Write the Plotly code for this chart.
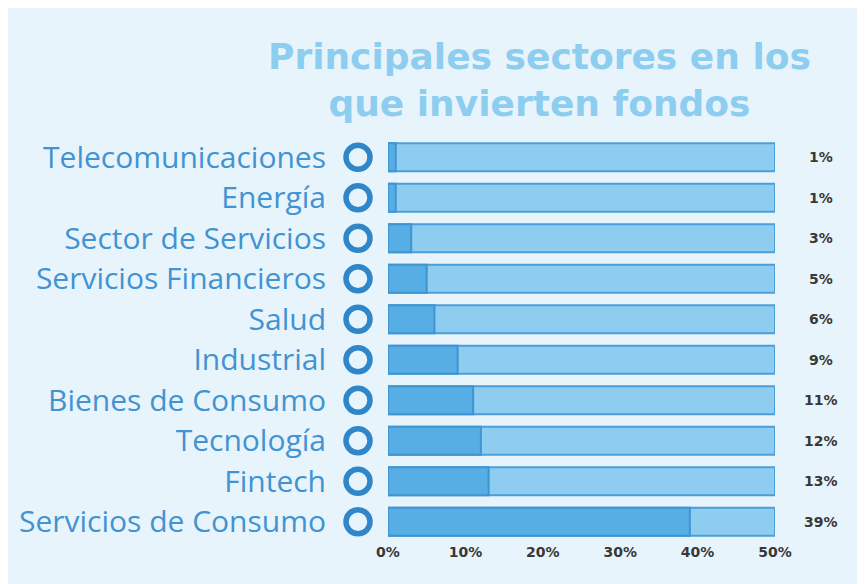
import plotly.graph_objects as go

categories = ["Telecomunicaciones", "Energía", "Sector de Servicios", "Servicios Financieros",
              "Salud", "Industrial", "Bienes de Consumo", "Tecnología", "Fintech", "Servicios de Consumo"]
values = [1, 1, 3, 5, 6, 9, 11, 12, 13, 39]
value_labels = ["1%", "1%", "3%", "5%", "6%", "9%", "11%", "12%", "13%", "39%"]
max_value = 50
tick_vals = [0, 10, 20, 30, 40, 50]
tick_text = ["0%", "10%", "20%", "30%", "40%", "50%"]

# page body has an 8px margin; work in screen pixels and subtract it
O = 8
W, H = 865 - O, 584 - O
L, R, T, B = 388 - O, 90, 137 - O, 42
plot_w = W - L - R
plot_h = H - T - B

def px_x(p):
    return (p - O - L) / plot_w

def px_y(p):
    return (H - B - (p - O)) / plot_h

fig = go.Figure()

# background (full) bars
fig.add_trace(go.Bar(
    y=categories, x=[max_value] * len(categories), orientation="h",
    width=0.69, marker=dict(color="#8fcdf0", line=dict(color="#4b9fd9", width=2)),
    hoverinfo="skip", showlegend=False))
# filled bars
fig.add_trace(go.Bar(
    y=categories, x=values, orientation="h",
    width=0.69, marker=dict(color="#56aee4", line=dict(color="#3f94d2", width=2)),
    showlegend=False))

shapes = []
# ring markers next to each category
for c in categories:
    shapes.append(dict(type="circle", xref="paper", yref="y",
                       xsizemode="pixel", ysizemode="pixel",
                       xanchor=px_x(358), yanchor=c,
                       x0=-12, x1=12, y0=-12, y1=12,
                       line=dict(color="#2f86c9", width=5.5), fillcolor="rgba(0,0,0,0)"))

annotations = []
for c, lab in zip(categories, value_labels):
    annotations.append(dict(x=px_x(821), xref="paper", xanchor="center", y=c, yref="y", text=lab,
                            showarrow=False,
                            font=dict(family="DejaVu Sans", size=14, color="#383838", weight="bold")))

annotations.append(dict(x=px_x(539), xref="paper", xanchor="center", y=px_y(80), yref="paper",
                        text="Principales sectores en los<br>que invierten fondos",
                        showarrow=False, yanchor="middle",
                        font=dict(family="DejaVu Sans", size=36, color="#8dcdf0", weight="bold")))

fig.update_layout(
    width=W, height=H,
    margin=dict(l=L, r=R, t=T, b=B, autoexpand=False),
    paper_bgcolor="#e8f4fc", plot_bgcolor="rgba(0,0,0,0)",
    barmode="overlay",
    annotations=annotations,
    shapes=shapes,
    xaxis=dict(range=[0, max_value], tickvals=tick_vals, ticktext=tick_text, showgrid=False,
               zeroline=False, showline=False, automargin=False,
               tickfont=dict(family="DejaVu Sans", size=14, color="#383838", weight="bold")),
    yaxis=dict(categoryorder="array", categoryarray=categories, autorange="reversed",
               showgrid=False, zeroline=False, showline=False, automargin=False,
               ticklabelstandoff=61,
               tickfont=dict(family="Open Sans", size=30, color="#4193d2")),
)

fig.write_html("out.html")
